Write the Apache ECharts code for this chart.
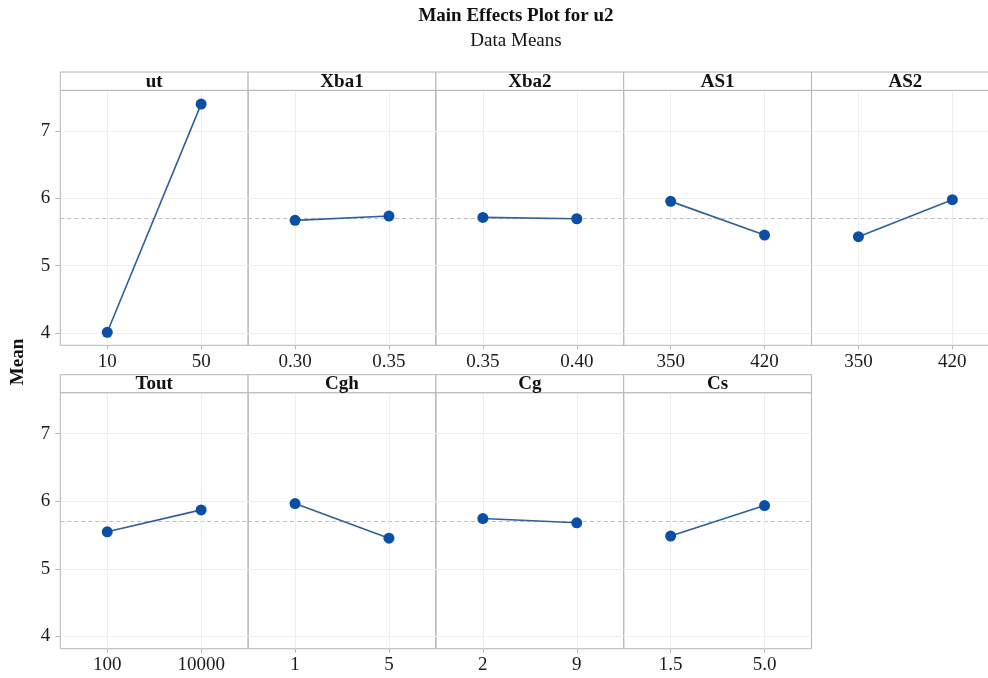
<!DOCTYPE html>
<html>
<head>
<meta charset="utf-8">
<script src="https://cdn.jsdelivr.net/npm/echarts@6/dist/echarts.min.js"></script>
<style>html,body{margin:0;padding:0;background:#fff;}#c{width:988px;height:678px;}</style>
</head>
<body>
<div id="c"></div>
<script>
// ---- data ----
const factors = ['ut', 'Xba1', 'Xba2', 'AS1', 'AS2', 'Tout', 'Cgh', 'Cg', 'Cs'];
const levels = [
  ['10', '50'],
  ['0.30', '0.35'],
  ['0.35', '0.40'],
  ['350', '420'],
  ['350', '420'],
  ['100', '10000'],
  ['1', '5'],
  ['2', '9'],
  ['1.5', '5.0']
];
const means = [
  [4.01, 7.40],
  [5.673, 5.737],
  [5.717, 5.697],
  [5.955, 5.455],
  [5.43, 5.98],
  [5.547, 5.871],
  [5.965, 5.453],
  [5.743, 5.68],
  [5.483, 5.935]
];
const grandMean = 5.706;
const yTicks = [4, 5, 6, 7];
const yMin = 3.817, yMax = 7.605;

// ---- layout ----
const FONT = '"Liberation Serif", "Times New Roman", serif';
const L0 = 60.3, W = 187.8;
const rows = [
  { headTop: 72, headBot: 90.3, plotBot: 345.3 },
  { headTop: 374.7, headBot: 392.7, plotBot: 648.7 }
];
const GRAY = '#b4b4b4';

const chart = echarts.init(document.getElementById('c'));
const grids = [], xAxes = [], yAxes = [], series = [], graphics = [];

factors.forEach((f, i) => {
  const r = i < 5 ? 0 : 1;
  const c = i < 5 ? i : i - 5;
  const row = rows[r];
  const left = L0 + c * W;
  const firstCol = c === 0;
  grids.push({
    left: left, top: row.headBot, width: W, height: row.plotBot - row.headBot,
    outerBoundsMode: 'none', containLabel: false,
    show: true, borderColor: GRAY, borderWidth: 1, backgroundColor: 'transparent'
  });
  xAxes.push({
    type: 'category', gridIndex: i, data: levels[i], boundaryGap: true,
    axisLine: { show: false },
    axisTick: { show: true, alignWithLabel: true, length: 4, lineStyle: { color: GRAY } },
    axisLabel: { fontFamily: FONT, fontSize: 19, color: '#1a1a1a', margin: 7 },
    splitLine: { show: false }
  });
  yAxes.push({
    type: 'value', gridIndex: i, min: yMin, max: yMax,
    axisLine: { show: false },
    axisTick: { show: firstCol, length: 5, customValues: yTicks, lineStyle: { color: GRAY } },
    axisLabel: { show: firstCol, customValues: yTicks, fontFamily: FONT, fontSize: 19, color: '#1a1a1a', margin: 10 },
    splitLine: { show: true, lineStyle: { color: '#eeeeee', width: 1 } }
  });
  series.push({
    type: 'line', xAxisIndex: i, yAxisIndex: i,
    data: means[i],
    symbol: 'circle', symbolSize: 11,
    itemStyle: { color: '#0b4ea6' },
    lineStyle: { color: '#2e5f9c', width: 1.6 },
    silent: true, animation: false, z: 3,
    markLine: {
      silent: true, symbol: 'none', animation: false, z: 1,
      label: { show: false },
      data: [
        { yAxis: grandMean, lineStyle: { type: [4, 3], color: '#bdbdbd', width: 1 } },
        { xAxis: levels[i][0], lineStyle: { type: 'solid', color: '#eeeeee', width: 1 } },
        { xAxis: levels[i][1], lineStyle: { type: 'solid', color: '#eeeeee', width: 1 } }
      ]
    }
  });
  // header strip
  graphics.push({
    type: 'rect', silent: true, z: 5,
    shape: { x: left, y: row.headTop, width: W, height: row.headBot - row.headTop },
    style: { fill: '#ffffff', stroke: GRAY, lineWidth: 1 }
  });
  graphics.push({
    type: 'text', silent: true, z: 6,
    style: {
      x: left + W / 2, y: (row.headTop + row.headBot) / 2 + 0.8,
      text: f, align: 'center', verticalAlign: 'middle',
      font: 'bold 19px ' + FONT, fill: '#111'
    }
  });
});

graphics.push({
  type: 'text', silent: true,
  style: { x: 516, y: 16, text: 'Main Effects Plot for u2', align: 'center', verticalAlign: 'middle',
           font: 'bold 19px ' + FONT, fill: '#111' }
});
graphics.push({
  type: 'text', silent: true,
  style: { x: 516, y: 41, text: 'Data Means', align: 'center', verticalAlign: 'middle',
           font: '19px ' + FONT, fill: '#111' }
});
graphics.push({
  type: 'text', silent: true, x: 18, y: 362, rotation: Math.PI / 2,
  style: { x: 0, y: 0, text: 'Mean', align: 'center', verticalAlign: 'middle',
           font: 'bold 19px ' + FONT, fill: '#111' }
});

chart.setOption({
  animation: false,
  backgroundColor: '#ffffff',
  grid: grids, xAxis: xAxes, yAxis: yAxes, series: series,
  graphic: graphics
});
</script>
</body>
</html>
